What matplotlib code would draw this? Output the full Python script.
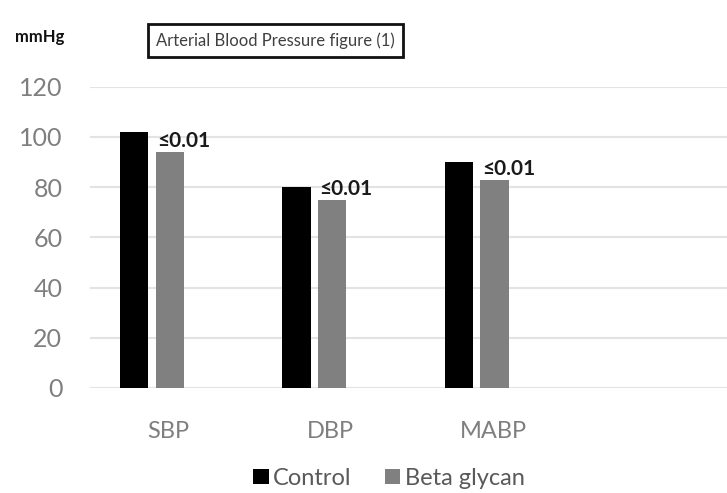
import numpy as np
import matplotlib
matplotlib.use('Agg')
import matplotlib.pyplot as plt

# data
categories = ['SBP', 'DBP', 'MABP']
control = [102, 80, 90]
beta_glycan = [94, 75, 83]
p_labels = ['≤0.01', '≤0.01', '≤0.01']

plt.rcParams['font.family'] = ['Lato', 'DejaVu Sans']

fig = plt.figure(figsize=(7.27, 4.93), dpi=100)
ax = fig.add_axes([0.124, 0.213, 0.876, 0.611])

x = np.arange(len(categories))
w = 0.175
off = 0.11
ax.bar(x - off, control, w, color='#000000', label='Control', zorder=3)
ax.bar(x + off, beta_glycan, w, color='#808080', label='Beta glycan', zorder=3)

# significance labels above the beta glycan bars
for xi, v, s in zip(x, beta_glycan, p_labels):
    ax.text(xi + off - w / 2 + 0.01, v + 0.3, s, ha='left', va='bottom',
            fontsize=15, fontweight='bold', color='#1a1a1a', zorder=4)

ax.set_xlim(-0.38, 3.54)
ax.set_ylim(0, 120)
ax.set_yticks(np.arange(0, 121, 20))
ax.set_xticks(x + 0.1)
ax.set_xticklabels(categories)
ax.grid(axis='y', color='#e3e3e3', linewidth=1.5, zorder=0)
for sp in ax.spines.values():
    sp.set_visible(False)
ax.tick_params(axis='both', length=0, colors='#7f7f7f')
ax.tick_params(axis='x', pad=24, labelsize=17)
ax.tick_params(axis='y', pad=20, labelsize=18)

fig.text(0.02, 0.925, 'mmHg', fontsize=12, fontweight='bold', color='#111111',
         ha='left', va='center')
fig.text(0.379, 0.918, 'Arterial Blood Pressure figure (1)', fontsize=12,
         color='#404040', ha='center', va='center',
         bbox=dict(boxstyle='square,pad=0.5', fc='white', ec='#111111', lw=2))

leg = fig.legend(loc='center', bbox_to_anchor=(0.535, 0.03), ncol=2, frameon=False,
                 fontsize=17, handlelength=0.65, handleheight=0.65, handletextpad=0.2,
                 columnspacing=1.4)
for t in leg.get_texts():
    t.set_color('#595959')

fig.savefig('out.png', dpi=100)
